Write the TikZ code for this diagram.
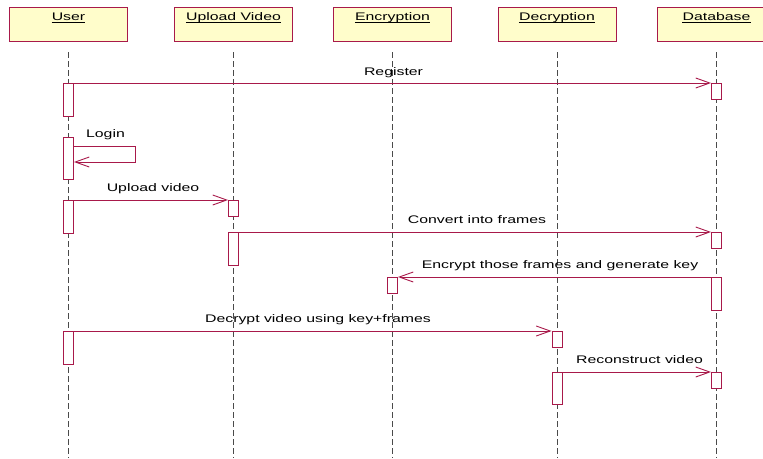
\documentclass[tikz,border=0pt]{standalone}
\usepackage{fontspec}
\setmainfont{Liberation Sans}[FakeStretch=1.44]
\usetikzlibrary{arrows.meta}
\definecolor{umlred}{HTML}{A8194A}
\definecolor{umlfill}{HTML}{FFFDCB}
\definecolor{lifegray}{HTML}{4A4A4A}
\tikzset{
  actor/.style={draw=umlred, fill=umlfill, line width=0.9pt, minimum width=118pt,
    minimum height=33.5pt, inner sep=0pt, anchor=north},
  hdr/.style={anchor=base, inner sep=0pt, font=\fontsize{11}{13}\selectfont},
  uline/.style={line width=0.8pt, black},
  lifeline/.style={draw=lifegray, line width=0.8pt, dash pattern=on 6pt off 3pt},
  actbar/.style={draw=umlred, fill=white, line width=0.9pt, minimum width=10pt,
    inner sep=0pt, anchor=north},
  msg/.style={draw=umlred, line width=0.9pt,
    -{Straight Barb[length=14pt, width=10pt, line width=0.9pt]}},
  lbl/.style={anchor=base, inner sep=0pt, font=\fontsize{11}{13}\selectfont}
}
\begin{document}
\begin{tikzpicture}[x=1pt, y=-1pt]
\useasboundingbox (0,0) rectangle (763,458);
\clip (0,0) rectangle (763,458);

% participant boxes
\foreach \nm/\xx/\txt in {user/68.5/User, upl/233.5/Upload Video, enc/392.5/Encryption,
                          dec/557/Decryption, db/716.5/Database}{
  \node[actor] (\nm) at (\xx,7) {};
  \node[hdr] (\nm txt) at (\xx,20) {\txt};
  \draw[uline] ([yshift=-2.3pt]\nm txt.base west) -- ([yshift=-2.3pt]\nm txt.base east);
  \coordinate (\nm top) at (\xx,52);
  \coordinate (\nm bot) at (\xx,458);
  \draw[lifeline] (\nm top) -- (\nm bot);
}

% activation bars
\node[actbar, minimum height=33pt] (u1) at (68.5,83) {};
\node[actbar, minimum height=42pt] (u2) at (68.5,137) {};
\node[actbar, minimum height=33pt] (u3) at (68.5,200) {};
\node[actbar, minimum height=33pt] (u4) at (68.5,331) {};
\node[actbar, minimum height=16pt] (p1) at (233.5,200) {};
\node[actbar, minimum height=33pt] (p2) at (233.5,232) {};
\node[actbar, minimum height=16pt] (e1) at (392.5,277) {};
\node[actbar, minimum height=16pt] (c1) at (557,331) {};
\node[actbar, minimum height=32pt] (c2) at (557,372) {};
\node[actbar, minimum height=16pt] (d1) at (716.5,83) {};
\node[actbar, minimum height=16pt] (d2) at (716.5,232) {};
\node[actbar, minimum height=33pt] (d3) at (716.5,277) {};
\node[actbar, minimum height=16pt] (d4) at (716.5,372) {};

% messages
\draw[msg] (u1.north east) -- (d1.north west);
\node[lbl] (tReg) at (393.5,75) {Register};

\coordinate (lgturn) at (135,162);
\draw[msg] ([yshift=-9pt]u2.north east) -| (lgturn) -- ([yshift=-25pt]u2.north east);
\node[lbl] (tLog) at (105.5,137.5) {Login};

\draw[msg] (u3.north east) -- (p1.north west);
\node[lbl] (tUpl) at (153,191.5) {Upload video};

\draw[msg] (p2.north east) -- (d2.north west);
\node[lbl] (tConv) at (477,223.5) {Convert into frames};

\draw[msg] (d3.north west) -- (e1.north east);
\node[lbl] (tEnc) at (560,268) {Encrypt those frames and generate key};

\draw[msg] (u4.north east) -- (c1.north west);
\node[lbl] (tDec) at (318,322.5) {Decrypt video using key+frames};

\draw[msg] (c2.north east) -- (d4.north west);
\node[lbl] (tRec) at (639.5,363) {Reconstruct video};
\end{tikzpicture}
\end{document}
